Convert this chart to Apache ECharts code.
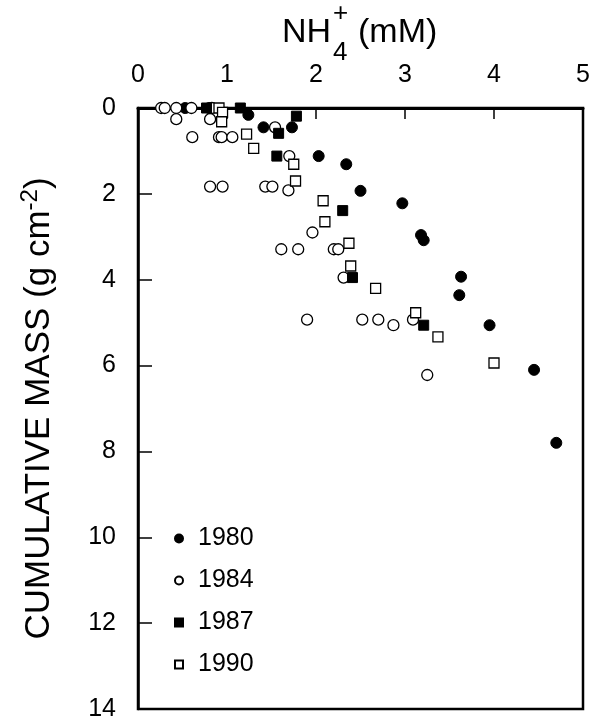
<!DOCTYPE html>
<html><head><meta charset="utf-8">
<script src="https://cdn.jsdelivr.net/npm/echarts@6/dist/echarts.min.js"></script>
<style>html,body{margin:0;padding:0;background:#fff}#c{width:598px;height:720px}</style>
</head><body><div id="c"></div>
<script>
// Data (x = NH4+ mM, y = cumulative mass g cm-2)
const x1980 = [0.53, 0.80, 1.24, 1.41, 1.73, 2.03, 2.34, 2.50, 2.97, 3.18, 3.21, 3.63, 3.61, 3.95, 4.45, 4.70];
const y1980 = [0.00, 0.00, 0.16, 0.45, 0.45, 1.12, 1.31, 1.93, 2.22, 2.96, 3.08, 3.93, 4.36, 5.06, 6.10, 7.80];
const x1984 = [0.26, 0.30, 0.43, 0.60, 0.83, 0.43, 0.81, 1.54, 0.61, 0.91, 0.94, 1.06, 1.70, 0.81, 0.95, 1.43, 1.51, 1.69, 1.96, 1.61, 1.80, 2.20, 2.25, 2.31, 1.90, 2.52, 2.70, 2.87, 3.09, 3.25];
const y1984 = [0.00, 0.00, 0.00, 0.00, 0.00, 0.26, 0.26, 0.45, 0.68, 0.68, 0.68, 0.68, 1.12, 1.83, 1.83, 1.83, 1.83, 1.92, 2.90, 3.29, 3.29, 3.29, 3.29, 3.95, 4.93, 4.93, 4.93, 5.06, 4.93, 6.22];
const x1987 = [0.77, 1.15, 1.78, 1.58, 1.56, 2.30, 2.41, 3.21];
const y1987 = [0.00, 0.00, 0.19, 0.59, 1.12, 2.39, 3.95, 5.06];
const x1990 = [0.91, 0.95, 0.94, 1.22, 1.30, 1.75, 1.77, 2.08, 2.10, 2.37, 2.39, 2.67, 3.12, 3.37, 4.00];
const y1990 = [0.00, 0.10, 0.32, 0.61, 0.94, 1.31, 1.70, 2.16, 2.65, 3.15, 3.68, 4.20, 4.77, 5.33, 5.94];
const years = ['1980', '1984', '1987', '1990'];
const xTicks = [0, 1, 2, 3, 4, 5];
const yTicks = [0, 2, 4, 6, 8, 10, 12, 14];

const zip = (xs, ys) => xs.map((v, i) => [v, ys[i]]);
const FONT = 'Liberation Sans';
const chart = echarts.init(document.getElementById('c'), null, {renderer: 'canvas'});

const filled = {color: '#000', borderColor: '#000', borderWidth: 1, opacity: 1};
const open = {color: '#fff', borderColor: '#000', borderWidth: 1.3, opacity: 1};

chart.setOption({
  backgroundColor: '#fff',
  animation: false,
  textStyle: {fontFamily: FONT, color: '#000'},
  grid: {left: 138, right: 15, top: 108, bottom: 11, show: true, borderColor: '#000', borderWidth: 2.5,
         containLabel: false, outerBoundsMode: 'none'},
  xAxis: {
    type: 'value', position: 'top', min: xTicks[0], max: xTicks[xTicks.length - 1], interval: 1,
    axisLine: {show: true, lineStyle: {color: '#000', width: 3}},
    axisTick: {show: true, inside: true, length: 11, lineStyle: {color: '#000', width: 1.5}},
    axisLabel: {fontSize: 25, color: '#000', margin: 20, fontFamily: FONT, showMaxLabel: true, showMinLabel: true, hideOverlap: false},
    splitLine: {show: false}
  },
  yAxis: {
    type: 'value', inverse: true, min: yTicks[0], max: yTicks[yTicks.length - 1], interval: 2,
    axisLine: {show: true, lineStyle: {color: '#000', width: 2.5}},
    axisTick: {show: true, inside: true, length: 14, lineStyle: {color: '#000', width: 1.5}},
    axisLabel: {fontSize: 25, color: '#000', margin: 22, fontFamily: FONT, showMaxLabel: true, showMinLabel: true},
    splitLine: {show: false},
    name: 'CUMULATIVE MASS (g cm{sup|-2})',
    nameLocation: 'middle', nameGap: 78, nameRotate: 90,
    nameTextStyle: {fontSize: 35, color: '#000', fontFamily: FONT,
      rich: {sup: {fontSize: 24, fontFamily: FONT, color: '#000', verticalAlign: 'top', padding: [0, 0, 18, 0]}}}
  },
  legend: {
    data: years, orient: 'vertical', left: 169, top: 521, itemGap: 17,
    itemWidth: 8, itemHeight: 8,
    textStyle: {fontSize: 25, color: '#000', fontFamily: FONT, padding: [0, 0, 0, 10]}
  },
  graphic: [
    {type: 'text', x: 282, y: 33, style: {text: 'NH', font: '34px "Liberation Sans"', fill: '#000', verticalAlign: 'middle'}},
    {type: 'text', x: 333, y: 53, style: {text: '4', font: '26px "Liberation Sans"', fill: '#000', verticalAlign: 'middle'}},
    {type: 'text', x: 333, y: 14, style: {text: '+', font: '26px "Liberation Sans"', fill: '#000', verticalAlign: 'middle'}},
    {type: 'text', x: 358, y: 33, style: {text: '(mM)', font: '34px "Liberation Sans"', fill: '#000', verticalAlign: 'middle'}}
  ],
  series: [
    {name: years[0], type: 'scatter', symbol: 'circle', symbolSize: 11, itemStyle: filled, data: zip(x1980, y1980)},
    {name: years[1], type: 'scatter', symbol: 'circle', symbolSize: 11, itemStyle: open, data: zip(x1984, y1984)},
    {name: years[2], type: 'scatter', symbol: 'rect', symbolSize: 10, itemStyle: filled, data: zip(x1987, y1987)},
    {name: years[3], type: 'scatter', symbol: 'rect', symbolSize: 10, itemStyle: open, data: zip(x1990, y1990)}
  ]
});
</script></body></html>
